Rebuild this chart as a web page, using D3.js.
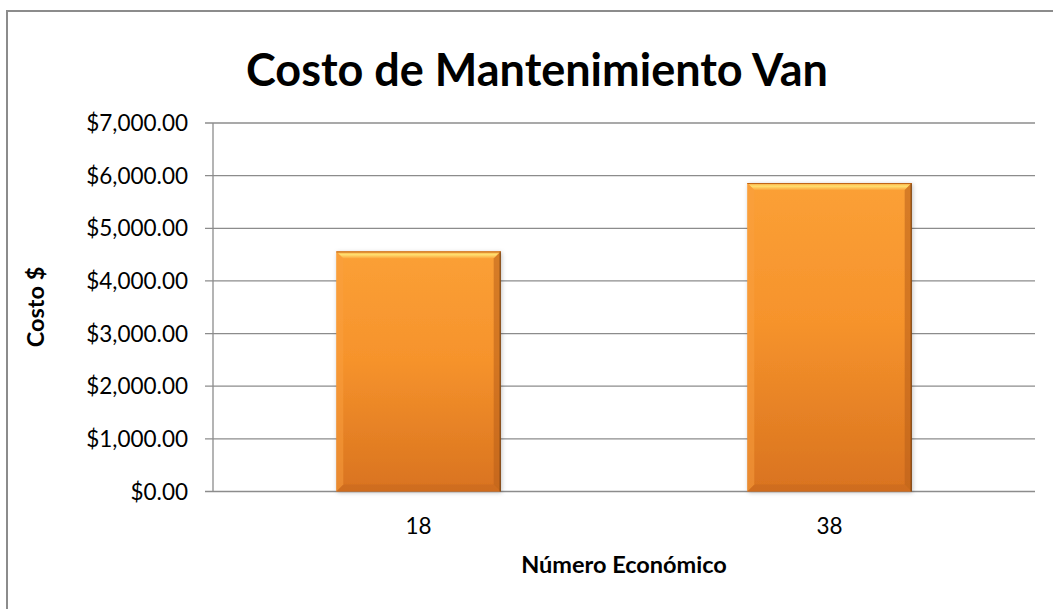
<!DOCTYPE html>
<html><head><meta charset="utf-8">
<script src="https://cdn.jsdelivr.net/npm/d3@7"></script>
<style>body{margin:0;background:#fff}svg{display:block}text{font-family:Lato,"Open Sans",sans-serif}</style>
</head><body>
<svg id="c" width="1053" height="609"></svg>
<script>
const categories = ["18", "38"];
const values = [4560, 5860];
const yTicks = [0, 1000, 2000, 3000, 4000, 5000, 6000, 7000];
const title = "Costo de Mantenimiento Van";
const xTitle = "Número Económico";
const yTitle = "Costo $";

const svg = d3.select("#c");
const m = {left: 213, right: 1035, top: 123, bottom: 491.5};

// chart border
svg.append("rect").attr("x", 7).attr("y", 11).attr("width", 1100).attr("height", 700)
  .attr("fill", "none").attr("stroke", "#8c8c8c").attr("stroke-width", 2);

const x = d3.scaleBand().domain(categories).range([m.left, m.right]).paddingInner(0.6).paddingOuter(0.3);
const y = d3.scaleLinear().domain([0, 7000]).range([m.bottom, m.top]);

const defs = svg.append("defs");
const g = defs.append("linearGradient").attr("id", "barg").attr("x1", 0).attr("y1", 0).attr("x2", 0).attr("y2", 1);
g.append("stop").attr("offset", "0%").attr("stop-color", "#FBA036");
g.append("stop").attr("offset", "45%").attr("stop-color", "#F6932C");
g.append("stop").attr("offset", "100%").attr("stop-color", "#D9731F");
const hl = defs.append("linearGradient").attr("id", "hl").attr("x1", 0).attr("y1", 0).attr("x2", 0).attr("y2", 1);
hl.append("stop").attr("offset", "0%").attr("stop-color", "#F8A13A");
hl.append("stop").attr("offset", "45%").attr("stop-color", "#FFE070");
hl.append("stop").attr("offset", "100%").attr("stop-color", "#FBA43C");
const sh = defs.append("filter").attr("id", "shadow").attr("x", "-10%").attr("y", "-10%").attr("width", "130%").attr("height", "130%");
sh.append("feDropShadow").attr("dx", 1).attr("dy", 1).attr("stdDeviation", 2).attr("flood-color", "#000").attr("flood-opacity", 0.25);

// gridlines
svg.append("g").selectAll("line").data(yTicks).join("line")
  .attr("x1", m.left - 8).attr("x2", m.right)
  .attr("y1", d => y(d)).attr("y2", d => y(d))
  .attr("stroke", "#8c8c8c").attr("stroke-width", 1.3);

// y axis line
svg.append("line").attr("x1", m.left).attr("x2", m.left).attr("y1", y(7000)).attr("y2", y(0))
  .attr("stroke", "#8c8c8c").attr("stroke-width", 1.3);

// y labels
svg.append("g").selectAll("text").data(yTicks).join("text")
  .attr("x", m.left - 25).attr("y", d => y(d)).attr("dy", "0.36em")
  .attr("text-anchor", "end").attr("font-size", 22.5).attr("fill", "#000")
  .text(d => d3.format("$,.2f")(d));

// bars
const bars = svg.append("g").selectAll("g").data(categories).join("g");
bars.each(function(c, i) {
  const gg = d3.select(this);
  const bx = x(c), bw = x.bandwidth(), by = y(values[i]), bh = y(0) - y(values[i]);
  const b = 7;
  gg.append("rect").attr("x", bx).attr("y", by).attr("width", bw).attr("height", bh)
    .attr("fill", "url(#barg)").attr("filter", "url(#shadow)");
  gg.append("path").attr("d", `M${bx},${by}L${bx+bw},${by}L${bx+bw-b},${by+b}L${bx+b},${by+b}Z`).attr("fill", "url(#hl)");
  gg.append("path").attr("d", `M${bx},${by+bh}L${bx+bw},${by+bh}L${bx+bw-b},${by+bh-b}L${bx+b},${by+bh-b}Z`).attr("fill", "#C86820").attr("opacity", 0.6);
  gg.append("path").attr("d", `M${bx},${by}L${bx+b},${by+b}L${bx+b},${by+bh-b}L${bx},${by+bh}Z`).attr("fill", "#FAA040").attr("opacity", 0.5);
  gg.append("path").attr("d", `M${bx+bw},${by}L${bx+bw-b},${by+b}L${bx+bw-b},${by+bh-b}L${bx+bw},${by+bh}Z`).attr("fill", "#B85E1A").attr("opacity", 0.55);
  gg.append("line").attr("x1", bx+bw-0.5).attr("x2", bx+bw-0.5).attr("y1", by).attr("y2", by+bh).attr("stroke", "#6b3a10").attr("stroke-width", 1);
  gg.append("line").attr("x1", bx).attr("x2", bx+bw).attr("y1", by+0.5).attr("y2", by+0.5).attr("stroke", "#C06518").attr("stroke-width", 1);
});

// x labels
svg.append("g").selectAll("text").data(categories).join("text")
  .attr("x", d => x(d) + x.bandwidth()/2).attr("y", 534)
  .attr("text-anchor", "middle").attr("font-size", 22.5).attr("fill", "#000").text(d => d);

// titles
svg.append("text").attr("x", 537).attr("y", 86).attr("text-anchor", "middle")
  .attr("font-size", 45).attr("font-weight", "bold").attr("fill", "#000").text(title);
svg.append("text").attr("x", 624).attr("y", 573).attr("text-anchor", "middle")
  .attr("font-size", 23.5).attr("font-weight", "bold").attr("fill", "#000").text(xTitle);
svg.append("text").attr("transform", "translate(44,307) rotate(-90)").attr("text-anchor", "middle")
  .attr("font-size", 23.5).attr("font-weight", "bold").attr("fill", "#000").text(yTitle);
</script>
</body></html>
